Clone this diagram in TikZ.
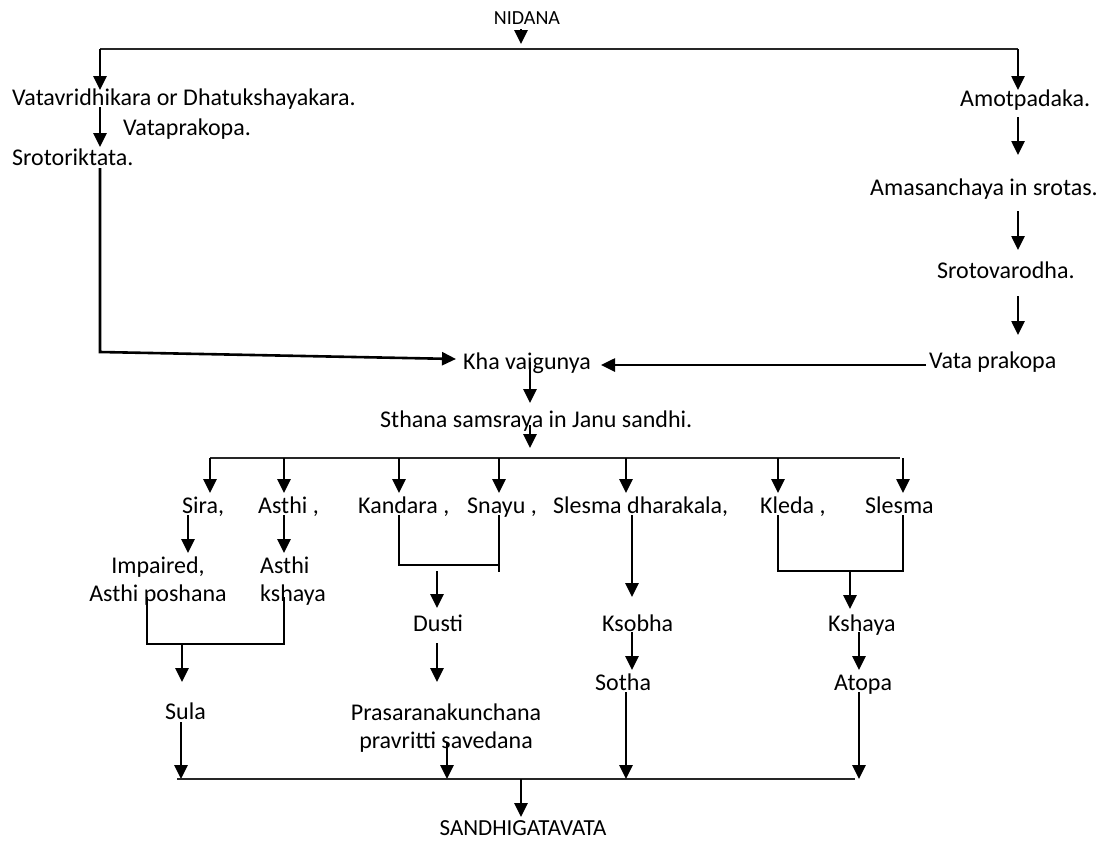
\documentclass[tikz,border=0pt]{standalone}
\usepackage{fontspec}
\setmainfont{Carlito}
\usetikzlibrary{arrows.meta}
\begin{document}
\begin{tikzpicture}[x=1pt,y=-1pt,
  lbl/.style={inner sep=0pt, font=\fontsize{24}{28}\selectfont, anchor=base west},
  arr/.style={line width=2.6pt, -{Triangle[length=14pt,width=13pt]}},
  hline/.style={line width=1.4pt, draw=black!85},
  brk/.style={line width=2pt}]
\useasboundingbox (0,0) rectangle (1105,841);
% ---- text nodes
\node[lbl, anchor=base, font=\fontsize{20}{24}\selectfont] (nid) at (527,24) {NIDANA};
\node[lbl] (vat) at (12,105) {Vatavridhikara or Dhatukshayakara.};
\node[lbl] (vpk) at (123,135) {Vataprakopa.};
\node[lbl] (sro) at (12,165) {Srotoriktata.};
\node[lbl] (amo) at (960,106) {Amotpadaka.};
\node[lbl] (ama) at (870,195) {Amasanchaya in srotas.};
\node[lbl] (srv) at (937,278) {Srotovarodha.};
\node[lbl] (vtp) at (929,368) {Vata prakopa};
\node[lbl] (kha) at (463,369) {Kha vaigunya};
\node[lbl] (sth) at (380,427) {Sthana samsraya in Janu sandhi.};
\node[lbl] (sira) at (182,513) {Sira,};
\node[lbl] (asthi) at (258,513) {Asthi ,};
\node[lbl] (kand) at (358,513) {Kandara ,};
\node[lbl] (snayu) at (467,513) {Snayu ,};
\node[lbl] (sdk) at (553,513) {Slesma dharakala,};
\node[lbl] (kleda) at (760,513) {Kleda ,};
\node[lbl] (slesma) at (865,513) {Slesma};
\node[lbl, anchor=base, align=center] (imp) at (158,601) {Impaired,\\Asthi poshana};
\node[lbl, align=left] (ak) at (260,601) {Asthi\\kshaya};
\node[lbl] (dusti) at (413,631) {Dusti};
\node[lbl] (ksobha) at (602,631) {Ksobha};
\node[lbl] (kshaya) at (828,631) {Kshaya};
\node[lbl] (sotha) at (595,690) {Sotha};
\node[lbl] (atopa) at (834,690) {Atopa};
\node[lbl] (sula) at (165,719) {Sula};
\node[lbl, anchor=base, align=center] (pras) at (446,748) {Prasaranakunchana\\pravritti savedana};
\node[lbl, anchor=base, font=\fontsize{23}{28}\selectfont] (sand) at (523,835) {SANDHIGATAVATA};
% ---- junction coordinates
\coordinate (nA) at (521,29); \coordinate (nB) at (521,44);
\coordinate (tL) at (100,49); \coordinate (tR) at (1018,49);
\coordinate (tLa) at (100,90); \coordinate (tRa) at (1018,90);
\coordinate (v1) at (100,107); \coordinate (v2) at (100,147);
\coordinate (a1) at (1018,117); \coordinate (a2) at (1018,155);
\coordinate (a3) at (1018,211); \coordinate (a4) at (1018,250);
\coordinate (a5) at (1018,296); \coordinate (a6) at (1018,335);
\coordinate (s1) at (100,168); \coordinate (s2) at (100,352); \coordinate (s3) at (456,359);
\coordinate (p1) at (926,365); \coordinate (p2) at (601,365);
\coordinate (k1) at (530,362); \coordinate (k2) at (530,403);
\coordinate (k3) at (530,425); \coordinate (k4) at (530,448);
\coordinate (bL) at (210,458); \coordinate (bR) at (900,458);
\coordinate (fL) at (177,779); \coordinate (fR) at (855,779);
% ---- connectors
\draw[arr] (nA) -- (nB);
\draw[hline] (tL) -- (tR);
\draw[arr] (tL) -- (tLa);
\draw[arr] (tR) -- (tRa);
\draw[arr] (v1) -- (v2);
\draw[arr] (a1) -- (a2);
\draw[arr] (a3) -- (a4);
\draw[arr] (a5) -- (a6);
\draw[arr] (s1) -- (s2) -- (s3);
\draw[arr] (p1) -- (p2);
\draw[arr] (k1) -- (k2);
\draw[arr] (k3) -- (k4);
\draw[hline] (bL) -- (bR);
\foreach \x in {210,284,399,499,626,778,903}
  \draw[arr] (\x,458) -- (\x,493);
\draw[arr] (188,515) -- (188,553);
\draw[arr] (284,515) -- (284,553);
\draw[brk] (147,597) -- (147,644) -- (284,644) -- (284,597);
\draw[arr] (182,644) -- (182,682);
\draw[arr] (181,722) -- (181,779);
\draw[brk] (399,515) -- (399,565) -- (499,565);
\draw[brk] (499,515) -- (499,572);
\draw[arr] (437,571) -- (437,608);
\draw[arr] (437,643) -- (437,682);
\draw[arr] (447,743) -- (447,779);
\draw[hline] (fL) -- (fR);
\draw[arr] (521,779) -- (521,817);
\draw[arr] (632,515) -- (632,597);
\draw[arr] (632,632) -- (632,670);
\draw[arr] (626,692) -- (626,779);
\draw[brk] (778,515) -- (778,571) -- (903,571) -- (903,515);
\draw[arr] (850,571) -- (850,609);
\draw[arr] (859,632) -- (859,670);
\draw[arr] (859,692) -- (859,779);
\end{tikzpicture}
\end{document}
